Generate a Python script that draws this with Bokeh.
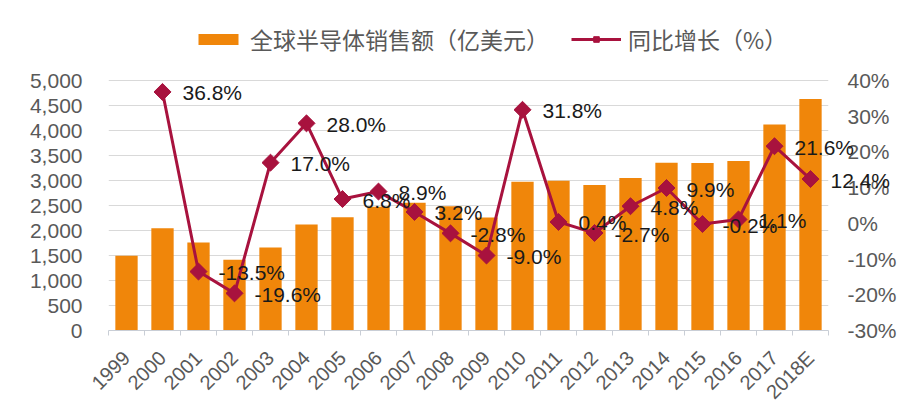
import math
from bokeh.plotting import figure
from bokeh.models import (Range1d, LinearAxis, FixedTicker, SingleIntervalTicker,
                          NumeralTickFormatter, PrintfTickFormatter, Legend, LegendItem,
                          ColumnDataSource, CustomJSTickFormatter)
from bokeh.core.properties import value
from bokeh.embed import file_html
from bokeh.resources import INLINE

years = ["1999", "2000", "2001", "2002", "2003", "2004", "2005", "2006", "2007", "2008",
         "2009", "2010", "2011", "2012", "2013", "2014", "2015", "2016", "2017", "2018E"]
sales = [1494, 2044, 1760, 1416, 1660, 2120, 2265, 2475, 2555, 2485,
         2260, 2975, 2995, 2910, 3050, 3355, 3350, 3390, 4120, 4630]
growth = [None, 36.8, -13.5, -19.6, 17.0, 28.0, 6.8, 8.9, 3.2, -2.8,
          -9.0, 31.8, 0.4, -2.7, 4.8, 9.9, -0.2, 1.1, 21.6, 12.4]

bar_name = "全球半导体销售额（亿美元）"
line_name = "同比增长（%）"

ORANGE = "#F0860A"
CRIMSON = "#A8123E"
AXIS_TXT = "#595959"
NUM_FONT = "Liberation Sans"
CJK_FONT = "Noto Sans CJK SC"

# axis extents shown with ticks; the frame is taller to hold the legend inside it
L_MIN, L_MAX = 0, 5000
R_MIN, R_MAX = -30, 40
FRAME_H, AXIS_H = 320, 250
stretch = FRAME_H / AXIS_H

n = len(years)
xc = [i + 0.5 for i in range(n)]

bar_src = ColumnDataSource(dict(x=xc, top=sales))
gx = [xc[i] for i in range(n) if growth[i] is not None]
gy = [g for g in growth if g is not None]
glab = ["%.1f%%" % g for g in gy]
line_src = ColumnDataSource(dict(x=gx, y=gy, lab=glab))

p = figure(frame_width=720, frame_height=FRAME_H, output_backend="svg",
           toolbar_location=None,
           x_range=Range1d(0, n),
           y_range=Range1d(L_MIN, L_MIN + (L_MAX - L_MIN) * stretch),
           min_border_left=108, min_border_right=70, min_border_bottom=70,
           min_border_top=10)
p.outline_line_color = None
p.extra_y_ranges = {"pct": Range1d(R_MIN, R_MIN + (R_MAX - R_MIN) * stretch)}

bars = p.vbar(x="x", top="top", width=0.62, bottom=0, source=bar_src,
              fill_color=ORANGE, line_color=None)

ln = p.line(x="x", y="y", source=line_src, line_color=CRIMSON, line_width=3,
            y_range_name="pct")
mk = p.scatter(x="x", y="y", source=line_src, marker="square", angle=math.pi / 4,
               size=12, fill_color=CRIMSON, line_color=CRIMSON, y_range_name="pct")
lbl = p.text(x="x", y="y", text="lab", source=line_src, y_range_name="pct",
             x_offset=20, y_offset=1, text_align="left", text_baseline="middle",
             text_font=value(NUM_FONT), text_font_size="21px", text_color="#1a1a1a",
             level="overlay")

p.yaxis.ticker = SingleIntervalTicker(interval=500, num_minor_ticks=0)
p.yaxis.formatter = NumeralTickFormatter(format="0,0")
p.yaxis.bounds = (L_MIN, L_MAX)
p.yaxis.axis_line_color = None
p.yaxis.major_tick_line_color = None
p.yaxis.major_tick_out = 0
p.yaxis.major_tick_in = 0
p.yaxis.minor_tick_line_color = None
p.yaxis.major_label_standoff = 26
p.yaxis.major_label_text_font = NUM_FONT
p.yaxis.major_label_text_font_size = "21px"
p.yaxis.major_label_text_color = AXIS_TXT

ra = LinearAxis(y_range_name="pct",
                ticker=SingleIntervalTicker(interval=10, num_minor_ticks=0),
                formatter=PrintfTickFormatter(format="%d%%"),
                bounds=(R_MIN, R_MAX))
ra.axis_line_color = None
ra.major_tick_line_color = None
ra.major_tick_out = 0
ra.major_tick_in = 0
ra.minor_tick_line_color = None
ra.major_label_standoff = 19
ra.major_label_text_font = NUM_FONT
ra.major_label_text_font_size = "21px"
ra.major_label_text_color = AXIS_TXT
p.add_layout(ra, "right")

xa = p.xaxis[0]
xa.ticker = FixedTicker(ticks=xc, minor_ticks=list(range(n + 1)))
xa.formatter = CustomJSTickFormatter(args=dict(labels=years),
                                     code="return labels[Math.floor(tick)];")
xa.major_label_orientation = math.pi / 4
xa.major_tick_line_color = None
xa.major_tick_out = 0
xa.major_tick_in = 0
xa.minor_tick_in = 0
xa.minor_tick_out = 5
xa.minor_tick_line_color = "#c9ced6"
xa.axis_line_color = "#c9ced6"
xa.major_label_standoff = 19
xa.major_label_text_font = NUM_FONT
xa.major_label_text_font_size = "20px"
xa.major_label_text_color = AXIS_TXT

p.xgrid.grid_line_color = None
p.ygrid.grid_line_color = "#d9d9d9"
p.ygrid.grid_line_width = 1
p.ygrid.bounds = (L_MIN, L_MAX)

legend = Legend(items=[LegendItem(label=bar_name, renderers=[bars]),
                       LegendItem(label=line_name, renderers=[ln, mk])],
                orientation="horizontal", location=(85, 274),
                glyph_width=50, glyph_height=14, label_standoff=7, spacing=22,
                label_text_font=CJK_FONT, label_text_font_size="23px",
                label_text_color=AXIS_TXT, border_line_color=None,
                background_fill_alpha=0, padding=4, margin=0)
p.add_layout(legend, "center")

open("out.html", "w").write(file_html(p, INLINE))
